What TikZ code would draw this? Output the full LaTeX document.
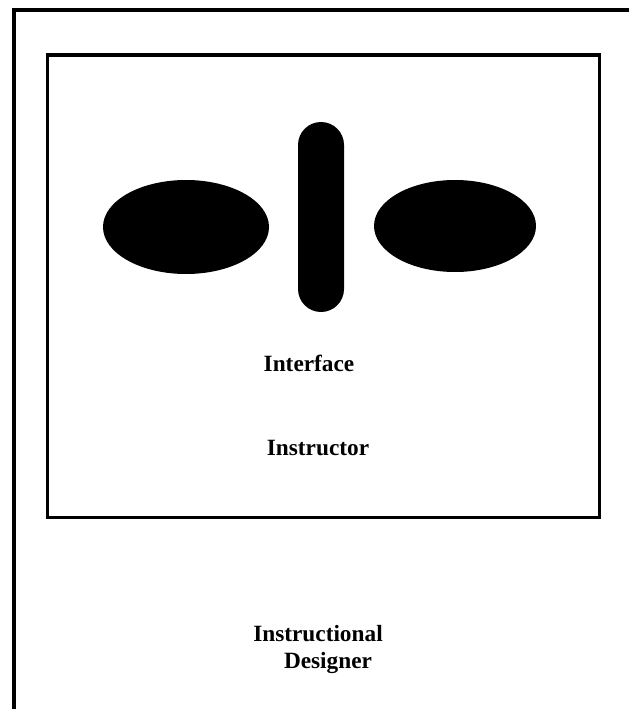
\documentclass[tikz,border=0pt]{standalone}
\usepackage{fontspec}
\setmainfont{Liberation Serif}
\usetikzlibrary{shapes.geometric}
\tikzset{blob/.style = {ellipse, fill, inner sep = 0, minimum width = 166, minimum height = 94}}
\tikzset{bar/.style = {fill, rounded corners = 23, inner sep = 0, minimum width = 46, minimum height = 190}}
\tikzset{lbl/.style = {font = \fontsize{23.3}{27}\selectfont\bfseries, inner sep = 0}}
\tikzset{every picture/.style={
    x = 1pt, y = -1pt,
}}

\begin{document}
\begin{tikzpicture}
    \useasboundingbox (0,0) rectangle (629,709);
    % open outer frame
    \draw[line width = 4pt] (629,10) -- (14,10) -- (14,709);
    \draw[line width = 3.5pt] (47.5,55) rectangle (599.5,517.5);

    \node[blob] (left) at (186,227) {};
    \node[blob, minimum width = 162, minimum height = 92] (right) at (455,226) {};
    \node[bar] (mid) at (321,217) {};

    \node[lbl] (iface) at (309,363) {Interface};
    \node[lbl] (instr) at (318,448) {Instructor};
    \node[lbl] (design1) at (318,634) {Instructional};
    \node[lbl] (design2) at (328,663) {Designer};
\end{tikzpicture}
\end{document}
